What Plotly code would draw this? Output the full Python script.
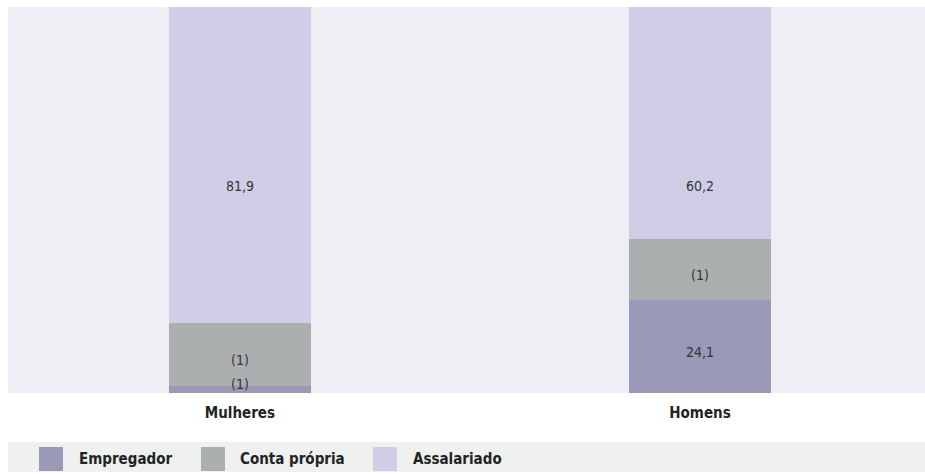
import plotly.graph_objects as go

categories = ["Mulheres", "Homens"]
series_names = ["Empregador", "Conta própria", "Assalariado"]
empregador = [1.8, 24.1]
conta_propria = [16.3, 15.7]
assalariado = [81.9, 60.2]
labels = {
    "Empregador": ["(1)", "24,1"],
    "Conta própria": ["(1)", "(1)"],
    "Assalariado": ["81,9", "60,2"],
}
colors = {"Empregador": "#9a99b8", "Conta própria": "#abafaf", "Assalariado": "#d0cde6"}

values = {"Empregador": empregador, "Conta própria": conta_propria, "Assalariado": assalariado}

W, H = 925, 474
ML, MR, MT, MB = 8, 0, 7, 81
PW, PH = W - ML - MR, H - MT - MB

def px_x(px):
    return (px - ML) / PW

def px_y(py):
    return (H - MB - py) / PH

FONT = "DejaVu Sans Condensed, Roboto, sans-serif"
fig = go.Figure()
for name in series_names:
    fig.add_trace(go.Bar(
        x=list(range(len(categories))), y=values[name], name=name,
        marker=dict(color=colors[name], line=dict(width=0)),
        width=0.309, showlegend=False, hoverinfo="x+y+name",
    ))

annotations = []
base = [0.0] * len(categories)
for si, name in enumerate(series_names):
    for ci in range(len(categories)):
        v = values[name][ci]
        mid = base[ci] + v / 2
        if si == len(series_names) - 1:
            y = min(mid, 53.6)
        else:
            y = max(mid - 1.5, 2.3)
        annotations.append(dict(
            x=ci, y=y, xref="x", yref="y", text=labels[name][ci], showarrow=False,
            font=dict(family=FONT, size=14, color="#333333"),
            xanchor="center", yanchor="middle",
        ))
        base[ci] += v

shapes = [dict(type="rect", xref="paper", yref="paper",
               x0=px_x(8), x1=px_x(925), y0=px_y(442), y1=px_y(472),
               fillcolor="#eff0f0", line=dict(width=0), layer="below")]
swatch_x = [39, 201, 373]
text_x = [77, 238, 411]
for i, name in enumerate(series_names):
    shapes.append(dict(type="rect", xref="paper", yref="paper",
                       x0=px_x(swatch_x[i]), x1=px_x(swatch_x[i] + 24),
                       y0=px_y(447), y1=px_y(471),
                       fillcolor=colors[name], line=dict(width=0)))
    annotations.append(dict(
        x=px_x(text_x[i]), y=px_y(459), xref="paper", yref="paper", text=name,
        showarrow=False, xanchor="left", yanchor="middle",
        font=dict(family=FONT, size=15, color="#1e2424", weight="bold"),
    ))

fig.update_layout(
    width=W, height=H,
    margin=dict(l=ML, r=MR, t=MT, b=MB, pad=0),
    paper_bgcolor="white", plot_bgcolor="#efeef5",
    barmode="stack", bargap=0,
    shapes=shapes, annotations=annotations,
    xaxis=dict(range=[-0.504, 1.489], tickmode="array", tickvals=list(range(len(categories))),
               ticktext=categories,
               tickfont=dict(family=FONT, size=15, color="#1e2424", weight="bold"),
               ticklabelstandoff=9,
               showgrid=False, zeroline=False, showline=False, ticks="", fixedrange=True),
    yaxis=dict(range=[0, 100], visible=False, showgrid=False, zeroline=False, fixedrange=True),
    showlegend=False,
)
fig.write_html(
    "out.html",
    config={"displayModeBar": False},
    post_script="document.body.style.margin='0';document.body.style.overflow='hidden';",
)
